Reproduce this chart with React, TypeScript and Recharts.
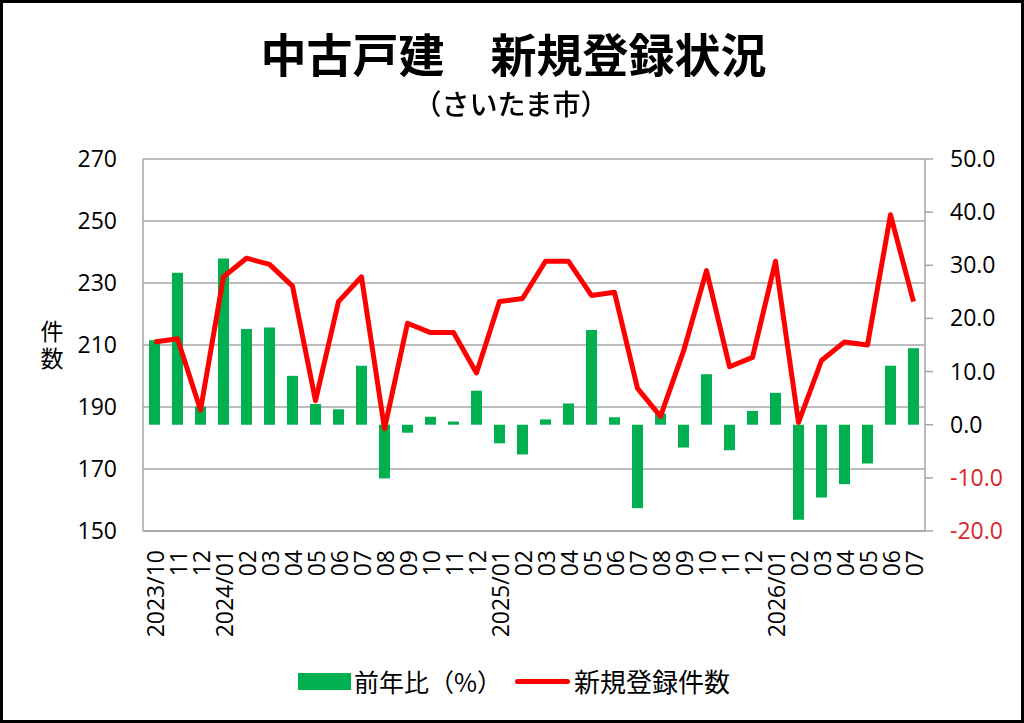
import {
  ComposedChart,
  Bar,
  Line,
  XAxis,
  YAxis,
  CartesianGrid,
} from "recharts";

// 月（2023/10〜2026/07）
const months = [
  "2023-10", "2023-11", "2023-12",
  "2024-01", "2024-02", "2024-03", "2024-04", "2024-05", "2024-06",
  "2024-07", "2024-08", "2024-09", "2024-10", "2024-11", "2024-12",
  "2025-01", "2025-02", "2025-03", "2025-04", "2025-05", "2025-06",
  "2025-07", "2025-08", "2025-09", "2025-10", "2025-11", "2025-12",
  "2026-01", "2026-02", "2026-03", "2026-04", "2026-05", "2026-06", "2026-07",
];

// 軸ラベル（年の初めだけ年を付ける）
const tickLabels = [
  "2023/10", "11", "12",
  "2024/01", "02", "03", "04", "05", "06", "07", "08", "09", "10", "11", "12",
  "2025/01", "02", "03", "04", "05", "06", "07", "08", "09", "10", "11", "12",
  "2026/01", "02", "03", "04", "05", "06", "07",
];

// 前年比（%）
const yoyRate = [
  15.9, 28.6, 3.4, 31.3, 18.0, 18.3, 9.2, 3.9, 2.9, 11.1, -10.1, -1.5,
  1.5, 0.6, 6.4, -3.5, -5.6, 1.0, 4.0, 17.8, 1.4, -15.7, 2.1, -4.3,
  9.5, -4.8, 2.6, 6.0, -17.9, -13.7, -11.2, -7.3, 11.1, 14.4,
];

// 新規登録件数
const newListings = [
  211, 212, 189, 232, 238, 236, 229, 192, 224, 232, 183, 217,
  214, 214, 201, 224, 225, 237, 237, 226, 227, 196, 187, 208,
  234, 203, 206, 237, 185, 205, 211, 210, 252, 224,
];

const leftTicks = [150, 170, 190, 210, 230, 250, 270];
const rightTicks = [-20, -10, 0, 10, 20, 30, 40, 50];

const FONT = "'Open Sans', 'Noto Sans CJK JP', sans-serif";
const JP = "'Noto Sans CJK JP', sans-serif";
const GRID = "#a6a6a6";
const GREEN = "#00b050";
const RED = "#ff0000";

const chartData = months.map((m, i) => ({
  month: m,
  label: tickLabels[i],
  yoy: yoyRate[i],
  count: newListings[i],
}));

function MonthTick(props: any) {
  const { x, y, index } = props;
  const ty = y + 19;
  return (
    <text
      x={x}
      y={ty}
      transform={`rotate(-90, ${x}, ${ty})`}
      textAnchor="end"
      dominantBaseline="central"
      fontFamily={FONT}
      fontSize={23}
      fill="#000"
    >
      {tickLabels[index]}
    </text>
  );
}

function RateTick(props: any) {
  const { x, y, payload } = props;
  const v = Number(payload.value);
  return (
    <text
      x={x}
      y={y}
      dy="0.35em"
      textAnchor="start"
      fontFamily={FONT}
      fontSize={23}
      fill={v < 0 ? "#d9262b" : "#000"}
    >
      {v.toFixed(1)}
    </text>
  );
}

const abs = (left: number, top: number, extra: any = {}) => ({
  position: "absolute" as const,
  left,
  top,
  color: "#000",
  whiteSpace: "nowrap" as const,
  ...extra,
});

export default function App() {
  return (
    <div
      style={{
        position: "fixed",
        left: 0,
        top: 0,
        width: 1024,
        height: 723,
        background: "#fff",
      }}
    >
      <ComposedChart
        width={1024}
        height={723}
        data={chartData}
        margin={{ top: 159, right: 0, bottom: 0, left: 0 }}
      >
        <CartesianGrid
          yAxisId="left"
          vertical={false}
          stroke={GRID}
          strokeWidth={1.5}
        />
        <XAxis
          dataKey="month"
          interval={0}
          height={192}
          tickLine={false}
          tickSize={0}
          tickMargin={0}
          axisLine={{ stroke: GRID, strokeWidth: 1.5 }}
          tick={<MonthTick />}
        />
        <YAxis
          yAxisId="left"
          width={143}
          domain={[150, 270]}
          ticks={leftTicks}
          interval={0}
          tickLine={false}
          tickSize={0}
          tickMargin={26}
          axisLine={{ stroke: GRID, strokeWidth: 1.5 }}
          tick={{ fill: "#000", fontSize: 23, fontFamily: FONT }}
        />
        <YAxis
          yAxisId="right"
          orientation="right"
          width={99}
          domain={[-20, 50]}
          ticks={rightTicks}
          interval={0}
          tickSize={8}
          tickMargin={17}
          tickLine={{ stroke: GRID, strokeWidth: 1.5 }}
          axisLine={{ stroke: GRID, strokeWidth: 1.5 }}
          tick={<RateTick />}
        />
        <Bar
          yAxisId="right"
          dataKey="yoy"
          fill={GREEN}
          barSize={11}
          name="前年比（%）"
          isAnimationActive={false}
        />
        <Line
          yAxisId="left"
          type="linear"
          dataKey="count"
          stroke={RED}
          strokeWidth={5}
          strokeLinejoin="round"
          dot={false}
          activeDot={false}
          name="新規登録件数"
          isAnimationActive={false}
        />
      </ComposedChart>

      {/* タイトル */}
      <div
        style={abs(0, 28, {
          width: 1027,
          textAlign: "center",
          fontFamily: JP,
          fontWeight: 700,
          fontSize: 46,
          lineHeight: "48px",
          whiteSpace: "pre",
        })}
      >
        中古戸建　新規登録状況
      </div>
      <div
        style={abs(0, 88, {
          width: 1022,
          textAlign: "center",
          fontFamily: JP,
          fontWeight: 500,
          fontSize: 28,
          lineHeight: "30px",
        })}
      >
        （さいたま市）
      </div>

      {/* 左軸タイトル（縦書き） */}
      <div
        style={abs(38, 320, {
          fontFamily: JP,
          fontSize: 23,
          lineHeight: "28px",
          letterSpacing: "4px",
          writingMode: "vertical-rl",
        })}
      >
        件数
      </div>

      {/* 凡例 */}
      <div style={abs(298, 673, { width: 53, height: 17, background: GREEN })} />
      <div style={abs(354, 666, { fontFamily: JP, fontSize: 25, lineHeight: "30px" })}>
        前年比（%）
      </div>
      <div
        style={abs(515, 679, {
          width: 55,
          height: 5,
          borderRadius: 3,
          background: RED,
        })}
      />
      <div style={abs(574, 666, { fontFamily: JP, fontSize: 26, lineHeight: "30px" })}>
        新規登録件数
      </div>

      {/* 外枠 */}
      <div
        style={{
          position: "absolute",
          inset: 0,
          border: "3px solid #000",
          boxSizing: "border-box",
          pointerEvents: "none",
        }}
      />
    </div>
  );
}
